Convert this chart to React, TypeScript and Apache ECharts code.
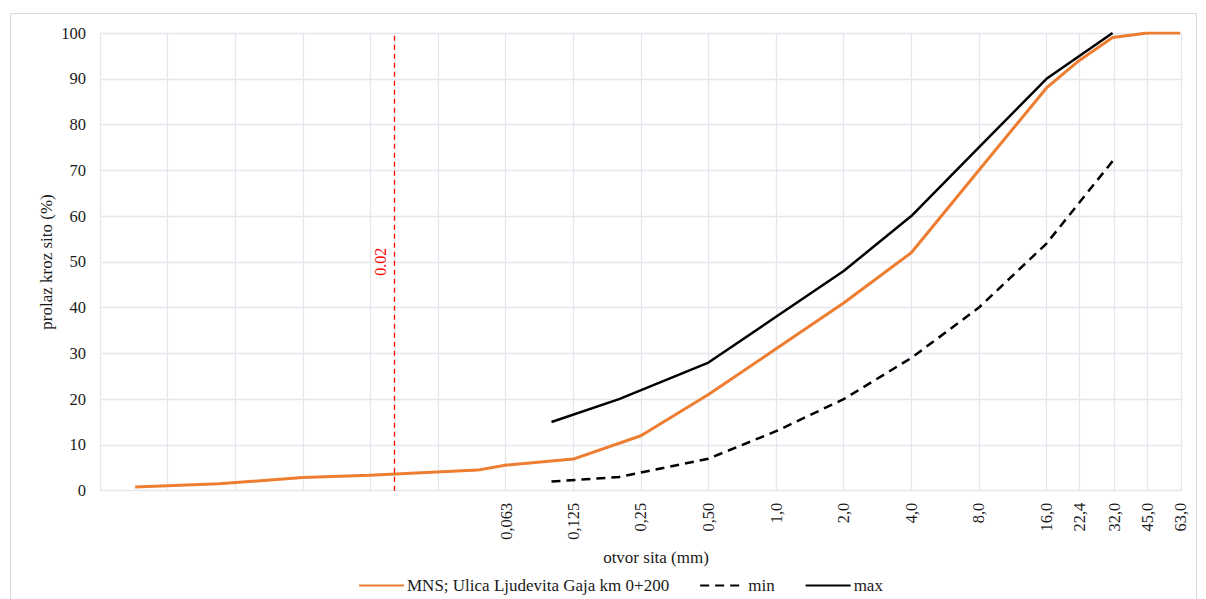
import React, { useEffect, useRef } from 'react';
import * as echarts from 'echarts';

// Sieve openings (mm) used as gridline positions on the base-2 log axis
const gridValues = [
  0.0009765625, 0.001953125, 0.00390625, 0.0078125, 0.015625, 0.03125, 0.0625,
  0.125, 0.25, 0.5, 1, 2, 4, 8, 16, 22.4, 32, 45, 64,
];
// Labelled sieve openings
const tickValues = [0.063, 0.125, 0.25, 0.5, 1, 2, 4, 8, 16, 22.4, 32, 45, 63];
const tickLabels = ['0,063', '0,125', '0,25', '0,50', '1,0', '2,0', '4,0', '8,0', '16,0', '22,4', '32,0', '45,0', '63,0'];

// Sample grading curve
const mnsName = 'MNS; Ulica Ljudevita Gaja km 0+200';
const mnsSizes = [0.0014, 0.0033, 0.0078, 0.0155, 0.047, 0.063, 0.125, 0.25, 0.5, 1, 2, 4, 8, 16, 22.4, 31.5, 45, 63];
const mnsPassing = [0.8, 1.5, 2.9, 3.4, 4.5, 5.6, 6.9, 12, 21, 31, 41, 52, 70, 88, 94, 99, 100, 100];

// Limit curves
const minSizes = [0.1, 0.2, 0.5, 1, 2, 4, 8, 16, 31.5];
const minPassing = [2, 3, 7, 13, 20, 29, 40, 54, 72];
const maxSizes = [0.1, 0.2, 0.5, 1, 2, 4, 8, 16, 31.5];
const maxPassing = [15, 20, 28, 38, 48, 60, 75, 90, 100];

const markerValue = 0.02;
const markerLabel = '0.02';

const xTitle = 'otvor sita (mm)';
const yTitle = 'prolaz kroz sito (%)';

const FONT = "'Liberation Serif', 'Times New Roman', 'DejaVu Serif', serif";
const TEXT = '#1a1a1a';
const GRID = '#e3e6ec';

function zip(xs: number[], ys: number[]) {
  return xs.map((x, i) => [x, ys[i]]);
}

export default function App() {
  const ref = useRef<HTMLDivElement>(null);
  useEffect(() => {
    document.body.style.margin = '0';
    const chart = echarts.init(ref.current!, null, { renderer: 'svg' });
    const fmt = (v: number) => {
      let best = -1;
      let bd = Infinity;
      tickValues.forEach((t, i) => {
        const d = Math.abs(Math.log(v / t));
        if (d < bd) {
          bd = d;
          best = i;
        }
      });
      return bd < 0.05 ? tickLabels[best] : '';
    };
    chart.setOption({
      animation: false,
      grid: { left: 100, right: 24.3, top: 33, bottom: 108.3, containLabel: false },
      legend: {
        data: [mnsName, 'min', 'max'],
        left: 353,
        top: 572,
        itemWidth: 45,
        itemHeight: 14,
        itemGap: 30,
        itemStyle: { opacity: 0 },
        textStyle: { fontFamily: FONT, fontSize: 17, color: TEXT, padding: [0, 0, 0, -2] },
      },
      xAxis: {
        type: 'log',
        logBase: 2,
        min: 0.0009765625,
        max: 64,
        axisLine: { show: true, lineStyle: { color: GRID, width: 1 } },
        axisTick: { show: false, customValues: gridValues },
        minorTick: { show: false },
        splitLine: { show: true, lineStyle: { color: GRID, width: 1.3 } },
        axisLabel: {
          customValues: tickValues,
          rotate: 90,
          formatter: fmt,
          fontFamily: FONT,
          fontSize: 16.5,
          color: TEXT,
          margin: 12,
        },
      },
      yAxis: {
        type: 'value',
        min: 0,
        max: 100,
        interval: 10,
        axisLine: { show: true, lineStyle: { color: GRID, width: 1 } },
        axisTick: { show: false },
        splitLine: { show: true, lineStyle: { color: GRID, width: 1.3 } },
        axisLabel: { fontFamily: FONT, fontSize: 16.5, color: TEXT, margin: 14 },
      },
      series: [
        {
          name: mnsName,
          type: 'line',
          data: zip(mnsSizes, mnsPassing),
          symbol: 'none',
          lineStyle: { color: '#ED7D31', width: 3 },
          itemStyle: { color: '#ED7D31' },
          markLine: {
            silent: true,
            symbol: ['none', 'none'],
            lineStyle: { color: '#ff0000', type: [5, 4], width: 1.3 },
            label: {
              show: true,
              formatter: markerLabel,
              position: 'insideMiddleTop',
              color: '#ff0000',
              fontFamily: FONT,
              fontSize: 16,
              distance: 6,
            },
            data: [{ xAxis: markerValue }],
          },
        },
        {
          name: 'min',
          type: 'line',
          data: zip(minSizes, minPassing),
          symbol: 'none',
          lineStyle: { color: '#000000', width: 2.5, type: [9, 6] },
          itemStyle: { color: '#000000' },
        },
        {
          name: 'max',
          type: 'line',
          data: zip(maxSizes, maxPassing),
          symbol: 'none',
          lineStyle: { color: '#000000', width: 2.5 },
          itemStyle: { color: '#000000' },
        },
      ],
      graphic: [
        {
          type: 'rect',
          silent: true,
          shape: { x: 10.5, y: 13.5, width: 1186, height: 620 },
          style: { fill: 'none', stroke: '#d9d9d9', lineWidth: 1 },
        },
        {
          type: 'text',
          x: 656,
          y: 557,
          style: {
            text: xTitle,
            fontFamily: FONT,
            fontSize: 17,
            fill: TEXT,
            textAlign: 'center',
            textVerticalAlign: 'middle',
          },
        },
        {
          type: 'text',
          x: 46,
          y: 262,
          rotation: Math.PI / 2,
          style: {
            text: yTitle,
            fontFamily: FONT,
            fontSize: 17,
            fill: TEXT,
            textAlign: 'center',
            textVerticalAlign: 'middle',
          },
        },
      ],
    });
    return () => chart.dispose();
  }, []);
  return <div ref={ref} style={{ width: 1206, height: 599 }} />;
}
